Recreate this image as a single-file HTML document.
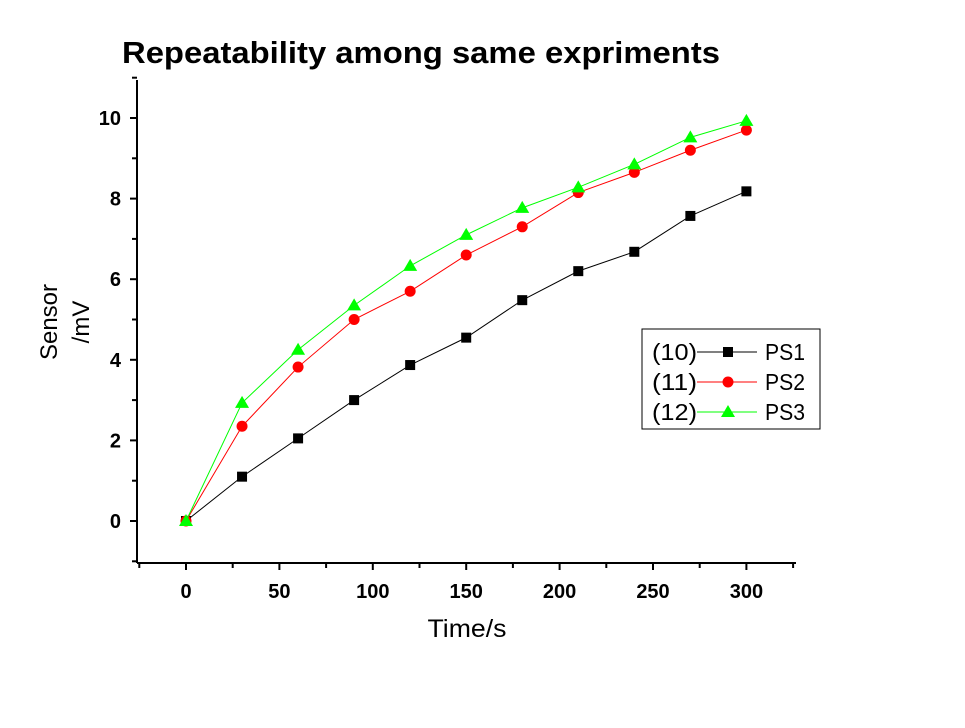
<!DOCTYPE html>
<html><head><meta charset="utf-8"><style>body{margin:0;background:#fff}svg{display:block;font-family:"Liberation Sans",Arial,sans-serif}</style></head>
<body>
<svg id="chart" width="965" height="728">
<text x="122" y="63" font-size="31" font-weight="bold" textLength="598" lengthAdjust="spacingAndGlyphs">Repeatability among same expriments</text>
<g id="axes"></g>
<g id="series"></g>
<text x="467" y="637" font-size="25" text-anchor="middle" textLength="79" lengthAdjust="spacingAndGlyphs">Time/s</text>
<g transform="translate(0,322) rotate(-90)"><text x="0" y="57" font-size="24" text-anchor="middle">Sensor</text><text x="0" y="89" font-size="24" text-anchor="middle">/mV</text></g>
<g id="legend"></g>
</svg>
<script>
const times=[0,30,60,90,120,150,180,210,240,270,300];
const ps1=[0,1.1,2.05,3.0,3.87,4.55,5.48,6.2,6.68,7.57,8.18];
const ps2=[0,2.35,3.82,5.0,5.7,6.6,7.3,8.15,8.65,9.2,9.7];
const ps3=[0,2.93,4.25,5.35,6.33,7.1,7.77,8.28,8.85,9.52,9.93];
const xTicks=[0,50,100,150,200,250,300];
const yTicks=[0,2,4,6,8,10];
const seriesNames=["PS1","PS2","PS3"];
const seriesIds=["(10)","(11)","(12)"];
const NS="http://www.w3.org/2000/svg";
const X=v=>186+(v)*1.868;
const Y=v=>521-v*40.3;
function mk(t,a,p){const e=document.createElementNS(NS,t);for(const k in a)e.setAttribute(k,a[k]);p.appendChild(e);return e;}
const ax=document.getElementById('axes');
const xl=mk('line',{x1:137,y1:563,x2:796,y2:563,stroke:'#000','stroke-width':2},ax);


const yl=mk('line',{x1:137,y1:80,x2:137,y2:563,stroke:'#000','stroke-width':2},ax);


for(let v=-25;v<=325;v+=25){const big=v%50===0;mk('line',{x1:X(v),y1:563,x2:X(v),y2:big?570:568,stroke:'#000','stroke-width':2},ax);}
xTicks.forEach(v=>{const t=mk('text',{x:X(v),y:598,'font-size':20,'font-weight':'bold','text-anchor':'middle'},ax);t.textContent=v;

});
for(let v=-1;v<=11;v++){const big=v%2===0;mk('line',{x1:137,x2:big?130:132,y1:Y(v),y2:Y(v),stroke:'#000','stroke-width':2},ax);}
yTicks.forEach(v=>{const t=mk('text',{x:121,y:Y(v)+7,'font-size':20,'font-weight':'bold','text-anchor':'end'},ax);t.textContent=v;

});
const sg=document.getElementById('series');
const cols=['#000','#ff0000','#00ff00'];
function marker(k,x,y,p){
 if(k===0)return mk('rect',{x:x-5,y:y-5,width:10,height:10,fill:'#000'},p);
 if(k===1)return mk('circle',{cx:x,cy:y,r:5.5,fill:'#ff0000'},p);
 return mk('polygon',{points:`${x},${y-7} ${x-7},${y+5} ${x+7},${y+5}`,fill:'#00ff00'},p);
}
[ps1,ps2,ps3].forEach((d,k)=>{
 const g=mk('g',{},sg);
 
 
 const pl=mk('polyline',{points:d.map((v,i)=>X(times[i])+','+Y(v)).join(' '),fill:'none',stroke:cols[k],'stroke-width':1},g);
 
 
 d.forEach((v,i)=>{const m=marker(k,X(times[i]),Y(v),g);
 
 });
});
const lg=document.getElementById('legend');
mk('rect',{x:642,y:329,width:178,height:100,fill:'#fff',stroke:'#000','stroke-width':1},lg);
seriesNames.forEach((n,k)=>{const y=352+k*30;
 const e=mk('g',{},lg);
 
 
 const t=mk('text',{x:652,y:y+8,'font-size':23,textLength:45,lengthAdjust:'spacingAndGlyphs'},e);t.textContent=seriesIds[k];
 mk('line',{x1:697,x2:757,y1:y,y2:y,stroke:cols[k],'stroke-width':1},e);
 marker(k,728,y,e);
 const t2=mk('text',{x:765,y:y+8,'font-size':23,textLength:40,lengthAdjust:'spacingAndGlyphs'},e);t2.textContent=n;
});
</script>
</body></html>
